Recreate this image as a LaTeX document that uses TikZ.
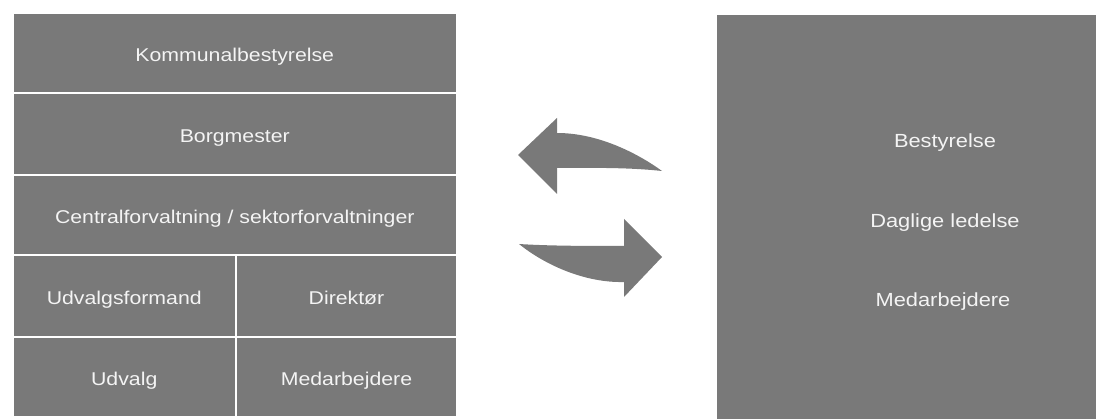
\documentclass[tikz,border=0pt]{standalone}
\usepackage{fontspec}
\newfontfamily\lab{Liberation Sans}[FakeStretch=1.15]
\definecolor{boxgrey}{HTML}{797979}
\definecolor{txt}{HTML}{F4F4F4}
\tikzset{
  cell/.style={rectangle, fill=boxgrey, draw=white, line width=2pt, inner sep=0pt,
    text=txt, text height=18pt, text depth=1pt, font=\lab\fontsize{18.5}{22}\selectfont},
  rtext/.style={text=txt, inner sep=0pt, text height=18pt, text depth=1pt,
    font=\lab\fontsize{19}{23}\selectfont},
  bigarrow/.style={fill=boxgrey, draw=none}
}
\begin{document}
\begin{tikzpicture}[x=1pt,y=-1pt]
\useasboundingbox (0,0) rectangle (1096,419);
% left block
\node[cell, minimum width=444.5pt, minimum height=80pt] (kb) at (234.75,52.7) {Kommunalbestyrelse};
\node[cell, minimum width=444.5pt, minimum height=82.3pt] (bm) at (234.75,133.85) {Borgmester};
\node[cell, minimum width=444.5pt, minimum height=80pt] (cf) at (234.75,215) {Centralforvaltning / sektorforvaltninger};
\node[cell, minimum width=223.5pt, minimum height=82pt] (uf) at (124.25,296) {Udvalgsformand};
\node[cell, minimum width=221pt, minimum height=82pt] (di) at (346.5,296) {Direktør};
\node[cell, minimum width=223.5pt, minimum height=80pt] (ud) at (124.25,377) {Udvalg};
\node[cell, minimum width=221pt, minimum height=80pt] (me) at (346.5,377) {Medarbejdere};
% right block
\node[rectangle, fill=boxgrey, inner sep=0pt, minimum width=385pt, minimum height=410pt] (rb) at (909.5,220.5) {};
\node[rtext] (be) at (945,139.5) {Bestyrelse};
\node[rtext] (dl) at (945,219) {Daglige ledelse};
\node[rtext] (mr) at (943,298) {Medarbejdere};
% arrows
\fill[bigarrow] (518,155) -- (557,118) -- (557,133)
  .. controls (600,133) and (640,155) .. (662,171)
  .. controls (625,167) and (585,168) .. (557,168)
  -- (557,194) -- cycle;
\fill[bigarrow] (519,244) .. controls (550,246) and (590,246) .. (624,246)
  -- (624,219) -- (662,257) -- (624,297) -- (624,282)
  .. controls (585,283) and (545,265) .. (519,244) -- cycle;
\end{tikzpicture}
\end{document}
